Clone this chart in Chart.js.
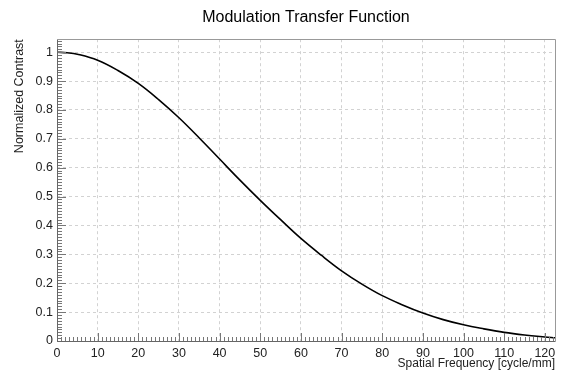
<!DOCTYPE html>
<html><head><meta charset="utf-8">
<script src="https://cdn.jsdelivr.net/npm/chart.js@4"></script>
<style>html,body{margin:0;padding:0;background:#fff}#wrap{width:561px;height:371px}</style>
</head><body><div id="wrap"><canvas id="c" width="561" height="371"></canvas></div>
<script>
// Data
const frequencies = [0,2.5,5,10,15,20,25,30,35,40,45,50,55,60,65,70,75,80,85,90,95,100,105,110,115,120,122.5];
const contrast    = [1.0,0.998,0.993,0.972,0.9365,0.892,0.836,0.773,0.703,0.630,0.557,0.487,0.420,0.355,0.297,0.243,0.197,0.157,0.125,0.097,0.074,0.056,0.042,0.030,0.021,0.014,0.011];
const xTickValues = [0,10,20,30,40,50,60,70,80,90,100,110,120];
const xTickLabels = ['0','10','20','30','40','50','60','70','80','90','100','110','120'];
const yTickValues = [0,0.1,0.2,0.3,0.4,0.5,0.6,0.7,0.8,0.9,1];
const yTickLabels = ['0','0.1','0.2','0.3','0.4','0.5','0.6','0.7','0.8','0.9','1'];
const xRange = [0, 122.5];
const yRange = [0, 1.045];
const xMinorStep = 1, yMinorStep = 0.01;

const FONT = "'Liberation Sans', Arial, Helvetica, sans-serif";

const rootFrame = {
  id: 'rootFrame',
  afterDatasetsDraw(chart) {
    const {ctx, chartArea: a, scales: {x, y}} = chart;
    ctx.save();
    ctx.lineWidth = 1;
    ctx.strokeStyle = '#777';
    ctx.beginPath();
    for (let i = 0; ; i++) {
      const v = xRange[0] + i * xMinorStep;
      if (v > xRange[1] + 1e-9) break;
      const px = Math.round(x.getPixelForValue(v)) + 0.5;
      const len = (i % 10) === 0 ? 8 : 4;
      ctx.moveTo(px, a.bottom);
      ctx.lineTo(px, a.bottom - len);
    }
    for (let i = 0; ; i++) {
      const v = yRange[0] + i * yMinorStep;
      if (v > yRange[1] + 1e-9) break;
      const py = Math.round(y.getPixelForValue(v)) + 0.5;
      const len = (i % 10) === 0 ? 9 : 5;
      ctx.moveTo(a.left, py);
      ctx.lineTo(a.left + len, py);
    }
    ctx.stroke();
    ctx.strokeStyle = '#666';
    ctx.beginPath();
    ctx.moveTo(Math.round(a.left) + 0.5, Math.round(a.top) + 0.5);
    ctx.lineTo(Math.round(a.left) + 0.5, Math.round(a.bottom) + 0.5);
    ctx.lineTo(Math.round(a.right) + 0.5, Math.round(a.bottom) + 0.5);
    ctx.stroke();
    ctx.strokeStyle = '#999';
    ctx.beginPath();
    ctx.moveTo(Math.round(a.left) + 0.5, Math.round(a.top) + 0.5);
    ctx.lineTo(Math.round(a.right) + 0.5, Math.round(a.top) + 0.5);
    ctx.lineTo(Math.round(a.right) + 0.5, Math.round(a.bottom) + 0.5);
    ctx.stroke();
    ctx.restore();
  }
};

new Chart(document.getElementById('c'), {
  type: 'line',
  data: {
    datasets: [{
      data: frequencies.map((f, i) => ({x: f, y: contrast[i]})),
      borderColor: '#000',
      borderWidth: 1.6,
      pointRadius: 0,
      fill: false,
      tension: 0.4
    }]
  },
  options: {
    responsive: false,
    animation: false,
    devicePixelRatio: 1,
    layout: {padding: {left: 0, right: 6, top: 0, bottom: 0}},
    plugins: {
      legend: {display: false},
      tooltip: {enabled: false},
      title: {
        display: true,
        text: 'Modulation Transfer Function',
        fullSize: false,
        color: '#000',
        font: {family: FONT, size: 16, weight: 'normal'},
        padding: {top: 8, bottom: 12}
      }
    },
    scales: {
      x: {
        type: 'linear',
        min: xRange[0], max: xRange[1],
        afterBuildTicks: s => { s.ticks = xTickValues.map(v => ({value: v})); },
        afterFit: s => { s.height = 30; },
        ticks: {
          callback: (v, i) => xTickLabels[i],
          color: '#222',
          font: {family: FONT, size: 12.5},
          padding: 5,
          maxRotation: 0,
          autoSkip: false
        },
        grid: {color: '#d2d2d2', lineWidth: 1, drawTicks: false},
        border: {display: false, dash: [3, 3]},
        title: {
          display: true,
          text: 'Spatial Frequency [cycle/mm]',
          align: 'end',
          color: '#222',
          font: {family: FONT, size: 12},
          padding: 0
        }
      },
      y: {
        type: 'linear',
        min: yRange[0], max: yRange[1],
        afterBuildTicks: s => { s.ticks = yTickValues.map(v => ({value: v})); },
        afterFit: s => { s.width = 57; },
        ticks: {
          callback: (v, i) => yTickLabels[i],
          color: '#222',
          font: {family: FONT, size: 12.5},
          padding: 4,
          autoSkip: false
        },
        grid: {color: '#d2d2d2', lineWidth: 1, drawTicks: false},
        border: {display: false, dash: [3, 3]},
        title: {
          display: true,
          text: 'Normalized Contrast',
          align: 'end',
          color: '#222',
          font: {family: FONT, size: 12.5},
          padding: {top: 12, bottom: 0}
        }
      }
    }
  },
  plugins: [rootFrame]
});
</script>
</body></html>
